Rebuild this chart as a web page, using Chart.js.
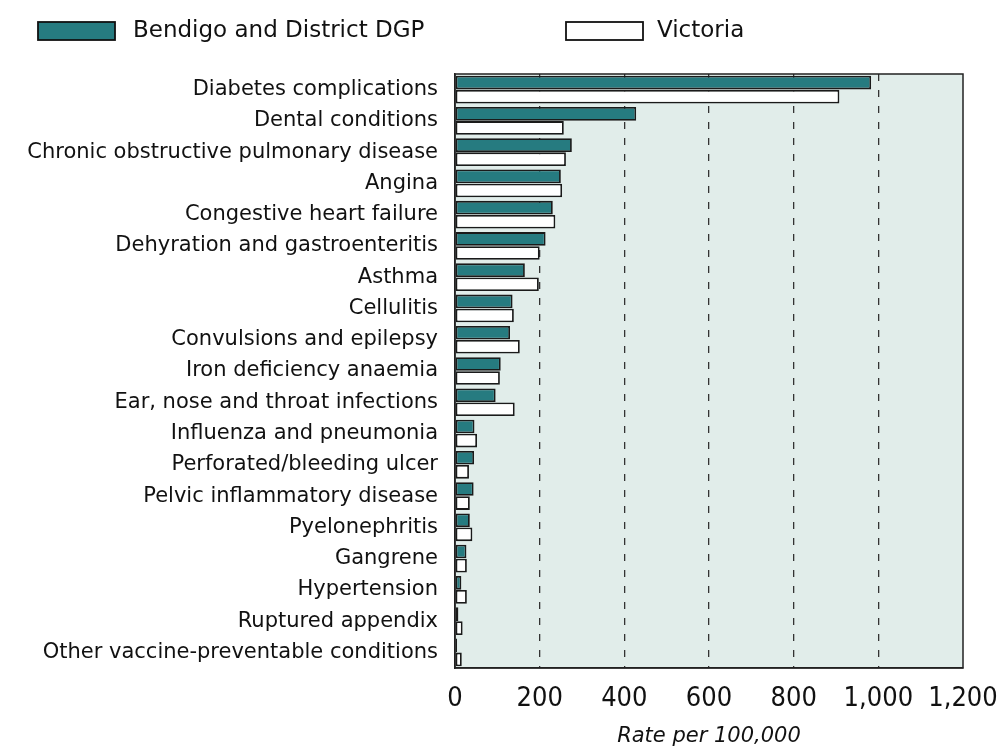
<!DOCTYPE html>
<html>
<head>
<meta charset="utf-8">
<script src="https://cdn.jsdelivr.net/npm/chart.js@4/dist/chart.umd.min.js"></script>
<style>
  html, body { margin: 0; padding: 0; background: #fff; }
  #wrap { width: 999px; height: 749px; }
</style>
</head>
<body>
<div id="wrap"><canvas id="bar-chart"></canvas></div>
<script>
var categories = ["Diabetes complications", "Dental conditions", "Chronic obstructive pulmonary disease",
  "Angina", "Congestive heart failure", "Dehyration and gastroenteritis", "Asthma", "Cellulitis",
  "Convulsions and epilepsy", "Iron deficiency anaemia", "Ear, nose and throat infections",
  "Influenza and pneumonia", "Perforated/bleeding ulcer", "Pelvic inflammatory disease",
  "Pyelonephritis", "Gangrene", "Hypertension", "Ruptured appendix", "Other vaccine-preventable conditions"];
var bendigo = [983, 428, 276, 250, 231, 214, 165, 136, 130, 108, 96, 46, 45, 44, 35, 27, 15, 8, 5];
var victoria = [908, 257, 262, 253, 237, 200, 198, 139, 153, 106, 141, 52, 33, 35, 41, 28, 28, 18, 16];
var xTicks = [0, 200, 400, 600, 800, 1000, 1200];

var labelFont = "'DejaVu Sans', sans-serif";
var tickFont = "'Liberation Sans Narrow', 'DejaVu Sans Condensed', sans-serif";

// plot background, box border and the legend at the top
var decor = {
  id: 'decor',
  beforeDraw: function(chart) {
    var a = chart.chartArea, c = chart.ctx;
    c.save();
    c.fillStyle = '#e1edea';
    c.fillRect(a.left, a.top, a.right - a.left, a.bottom - a.top);
    c.restore();
  },
  afterDraw: function(chart) {
    var a = chart.chartArea, c = chart.ctx;
    c.save();
    c.strokeStyle = '#222';
    c.lineWidth = 1.5;
    c.strokeRect(a.left, a.top, a.right - a.left, a.bottom - a.top);

    var items = [
      {x: 38, tx: 133, text: "Bendigo and District DGP", fill: '#267b80'},
      {x: 566, tx: 657, text: "Victoria", fill: '#ffffff'}
    ];
    c.font = "23px " + labelFont;
    c.textBaseline = 'middle';
    items.forEach(function(it) {
      c.fillStyle = it.fill;
      c.fillRect(it.x, 22, 77, 18);
      c.strokeStyle = '#111';
      c.lineWidth = 1.8;
      c.strokeRect(it.x, 22, 77, 18);
      c.fillStyle = '#111';
      c.fillText(it.text, it.tx, 31);
    });
    c.restore();
  }
};

new Chart(document.getElementById("bar-chart"), {
  type: 'bar',
  data: {
    labels: categories,
    datasets: [{
      label: "Bendigo and District DGP",
      backgroundColor: '#267b80',
      borderColor: '#1a1a1a',
      borderWidth: 1.8,
      borderSkipped: false,
      data: bendigo
    }, {
      label: "Victoria",
      backgroundColor: '#ffffff',
      borderColor: '#1a1a1a',
      borderWidth: 1.8,
      borderSkipped: false,
      data: victoria
    }]
  },
  options: {
    indexAxis: 'y',
    responsive: true,
    maintainAspectRatio: false,
    animation: false,
    layout: { padding: { top: 74, right: 36, left: 0, bottom: 0 } },
    datasets: { bar: { barPercentage: 0.97, categoryPercentage: 0.9 } },
    plugins: {
      legend: { display: false },
      tooltip: { enabled: false }
    },
    scales: {
      x: {
        min: 0,
        max: 1200,
        afterBuildTicks: function(scale) {
          scale.ticks = xTicks.map(function(v) { return {value: v}; });
        },
        afterFit: function(scale) {
          scale.height = 81;
          scale.paddingLeft = 0;
          scale.paddingRight = 0;
        },
        grid: {
          drawTicks: false,
          color: function(ctx) {
            var v = ctx.tick && ctx.tick.value;
            return (v === 0 || v === 1200) ? 'rgba(0,0,0,0)' : '#333';
          },
          lineWidth: 1.3
        },
        border: { display: true, color: '#222', width: 1.5, dash: [7, 9] },
        ticks: {
          padding: 15,
          color: '#111',
          font: { family: tickFont, size: 27 },
          maxRotation: 0
        },
        title: {
          display: true,
          text: 'Rate per 100,000',
          color: '#111',
          font: { family: labelFont, size: 21, style: 'italic' },
          padding: { top: 2, bottom: 0 }
        }
      },
      y: {
        afterFit: function(scale) { scale.width = 455; },
        grid: { display: false, drawTicks: false },
        border: { display: true, color: '#222', width: 1.5 },
        ticks: {
          padding: 17,
          color: '#111',
          font: { family: labelFont, size: 21 },
          autoSkip: false
        }
      }
    }
  },
  plugins: [decor]
});
</script>
</body>
</html>
